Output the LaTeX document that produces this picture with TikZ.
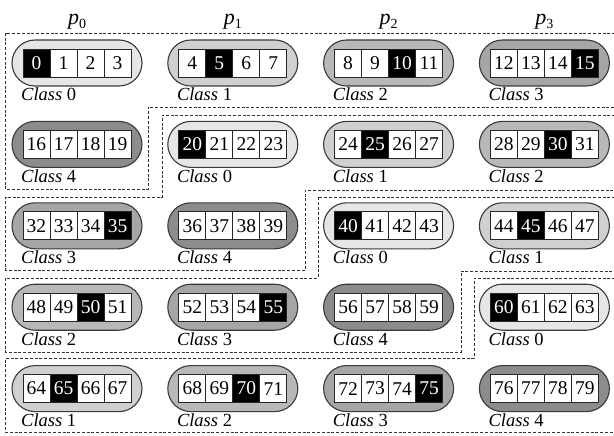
\documentclass[tikz,border=0pt]{standalone}
\usepackage{fontspec}
\setmainfont{Liberation Serif}
\newfontfamily\tnr{Liberation Serif}
\definecolor{cls0}{HTML}{E6E6E6}
\definecolor{cls1}{HTML}{D0D0D0}
\definecolor{cls2}{HTML}{B8B8B8}
\definecolor{cls3}{HTML}{A6A6A6}
\definecolor{cls4}{HTML}{8C8C8C}
\definecolor{pillline}{HTML}{3A3A3A}
\begin{document}
\begin{tikzpicture}[x=1pt,y=-1pt,
  pill/.style={draw=pillline, line width=1.1pt, minimum width=130pt, minimum height=46pt,
               rounded corners=23pt, inner sep=0pt},
  cell/.style={draw=black!85, line width=0.8pt, fill=white, minimum width=27pt,
               minimum height=28pt, inner sep=0pt, font=\tnr\fontsize{19.5}{19.5}\selectfont},
  hot/.style={fill=black, text=white},
  plain/.style={},
  lbl/.style={anchor=base west, inner sep=0pt, font=\tnr\fontsize{18.5}{18.5}\selectfont},
  plbl/.style={anchor=base, inner sep=0pt, font=\tnr\fontsize{22}{22}\selectfont\itshape},
  region/.style={draw=black!80, line width=0.7pt, dash pattern=on 3pt off 1.8pt}]
\useasboundingbox (0,0) rectangle (614,436);
% processor labels
\foreach \c in {0,...,3}{
  \pgfmathsetmacro\cx{77+155.8*\c}
  \node[plbl] (p\c) at (\cx,25) {p\raisebox{-4pt}{\fontsize{14}{14}\selectfont\upshape\c}};
}
% pills with cells
\foreach \r in {0,...,4}{
  \foreach \c in {0,...,3}{
    \pgfmathtruncatemacro\cls{mod(4*\r+\c,5)}
    \pgfmathsetmacro\cx{77+155.8*\c}
    \pgfmathsetmacro\cy{63+81.4*\r}
    \node[pill, fill=cls\cls] (P\r\c) at (\cx,\cy) {};
    \foreach \k in {0,...,3}{
      \pgfmathtruncatemacro\n{16*\r+4*\c+\k}
      \pgfmathsetmacro\kx{\cx+(\k-1.5)*27}
      \ifnum\k=\cls \def\st{hot}\else\def\st{plain}\fi
      \node[cell,\st] (C\n) at (\kx,\cy) {\n};
    }
    \node[lbl] (L\r\c) at (\cx-56,\cy+38) {{\itshape Class} \cls};
  }
}
% dashed processor regions
\draw[region] (620,33) -- (5.5,33) -- (5.5,189.5) -- (148,189.5) -- (148,107) -- (620,107);
\draw[region] (620,115) -- (162,115) -- (162,197) -- (5.5,197) -- (5.5,270) -- (305,270) -- (305,190) -- (620,190);
\draw[region] (620,197) -- (318,197) -- (318,278) -- (5.5,278) -- (5.5,352) -- (461,352) -- (461,271) -- (620,271);
\draw[region] (620,278) -- (474,278) -- (474,358) -- (5.5,358) -- (5.5,432) -- (620,432);
\end{tikzpicture}
\end{document}
